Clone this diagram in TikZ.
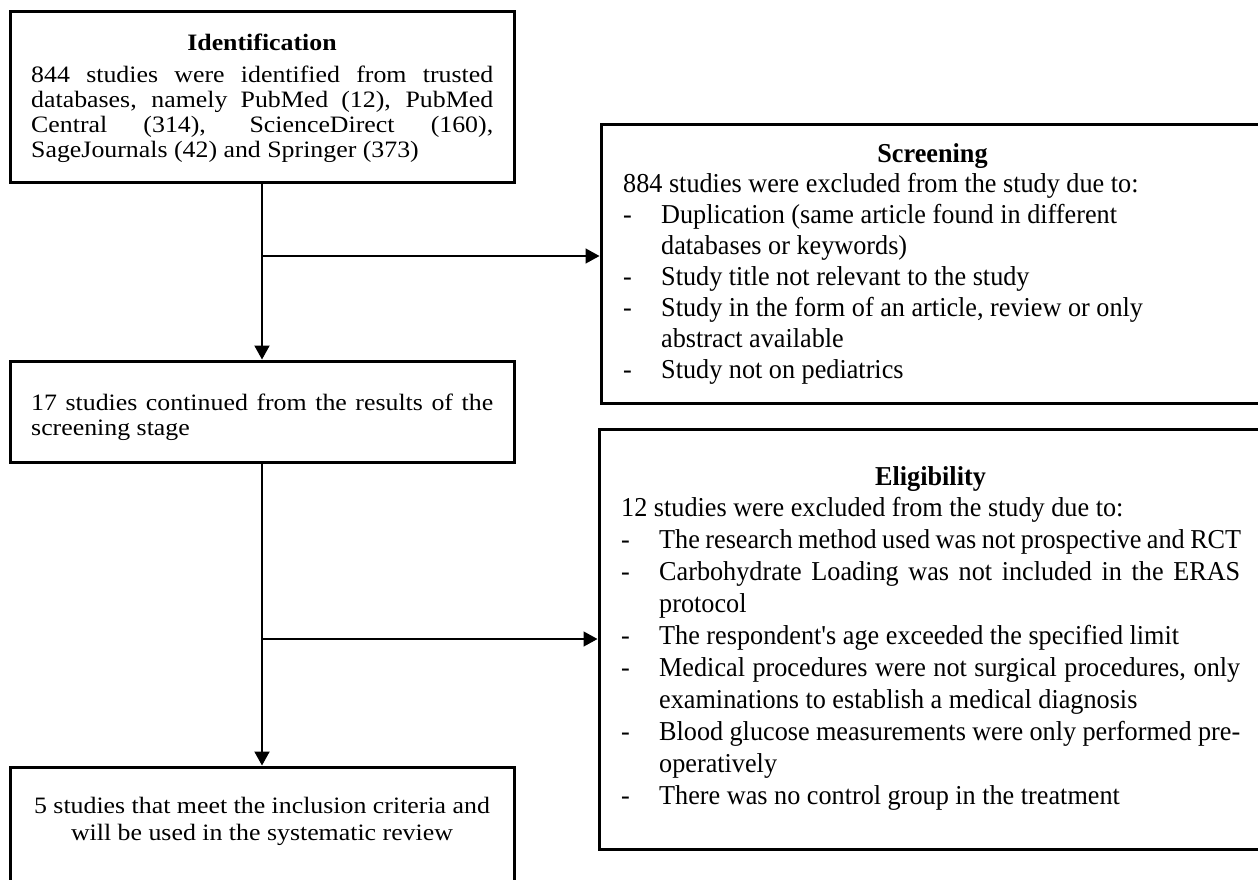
\documentclass[tikz,border=0pt]{standalone}
\usepackage{fontspec}
\setmainfont{Liberation Serif}
\newfontfamily\lfont[FakeStretch=1.1]{Liberation Serif}
\newfontfamily\rfont[FakeStretch=0.96]{Liberation Serif}
\usetikzlibrary{arrows.meta}
\newcommand\dsh{\makebox[38pt][l]{-}}
\newcommand\cnt{\hspace*{38pt}}
\newcommand\jl[2]{\makebox[#1][s]{#2}}
\tikzset{
  x=1pt, y=-1pt,
  box/.style={draw, line width=3pt, inner sep=0pt},
  vconn/.style={line width=2pt},
  hconn/.style={line width=1.5pt},
  arr/.style={-{Triangle[length=14pt,width=15pt]}},
  txt/.style={inner sep=0pt, anchor=base west},
  ctxt/.style={inner sep=0pt, anchor=base},
  lfnt/.style={font=\lfont\fontsize{23.5}{25}\selectfont},
  rfnt/.style={font=\rfont\fontsize{27.3}{31.2}\selectfont}
}
\begin{document}
\begin{tikzpicture}
\fill[white] (0,0) rectangle (1258,879);
\useasboundingbox (0,0) rectangle (1258,879);

% boxes
\node[box, minimum width=504pt, minimum height=171pt] (b1) at (262,96.5) {};
\node[box, minimum width=504pt, minimum height=101pt] (b2) at (262,411.5) {};
\node[box, minimum width=504pt, minimum height=117pt] (b3) at (262,825.5) {};
\node[box, minimum width=661pt, minimum height=279pt] (scr) at (931.5,263.5) {};
\node[box, minimum width=663pt, minimum height=420pt] (elg) at (930.5,639) {};

% Identification text
\node[ctxt, lfnt] (h1) at (262,50) {\bfseries Identification};
\node[txt, lfnt] (t1) at (31,82) {\parbox[t]{462pt}{\lfont\fontsize{23.5}{25}\selectfont
\jl{462pt}{844 studies were identified from trusted}\\
\jl{462pt}{databases, namely PubMed (12), PubMed}\\
\jl{462pt}{Central (314), ScienceDirect (160),}\\
SageJournals (42) and Springer (373)}};

% 17 studies
\node[txt, lfnt] (t2) at (31,410) {\parbox[t]{462pt}{\lfont\fontsize{23.5}{25}\selectfont
\jl{462pt}{17 studies continued from the results of the}\\
screening stage}};

% 5 studies
\node[ctxt, lfnt] (t3) at (262,813) {\parbox[t]{480pt}{\centering\lfont\fontsize{23.5}{27}\selectfont
5 studies that meet the inclusion criteria and\\
will be used in the systematic review}};

% Screening text
\node[ctxt, rfnt] (h2) at (932.5,162) {\bfseries Screening};
\node[txt, rfnt] (t4) at (623,192) {\parbox[t]{620pt}{\rfont\fontsize{27.3}{31.1}\selectfont
884 studies were excluded from the study due to:\\
\dsh Duplication (same article found in different\\
\cnt databases or keywords)\\
\dsh Study title not relevant to the study\\
\dsh Study in the form of an article, review or only\\
\cnt abstract available\\
\dsh Study not on pediatrics}};

% Eligibility text
\node[ctxt, rfnt] (h3) at (930.5,485) {\bfseries Eligibility};
\node[txt, rfnt] (t5) at (621,516) {\parbox[t]{620pt}{\rfont\fontsize{27.3}{32.1}\selectfont
12 studies were excluded from the study due to:\\
\dsh The research method used was not prospective and RCT\\
\dsh \jl{581pt}{Carbohydrate Loading was not included in the ERAS}\\
\cnt protocol\\
\dsh The respondent's age exceeded the specified limit\\
\dsh \jl{581pt}{Medical procedures were not surgical procedures, only}\\
\cnt examinations to establish a medical diagnosis\\
\dsh \jl{581pt}{Blood glucose measurements were only performed pre-}\\
\cnt operatively\\
\dsh There was no control group in the treatment}};

% connectors
\coordinate (j1) at (262,256);
\coordinate (j2) at (262,639);
\draw[vconn, arr] (b1.south) -- (b2.north);
\draw[hconn, arr] (j1) -- (j1 -| scr.west);
\draw[vconn, arr] (b2.south) -- (b3.north);
\draw[hconn, arr] (j2) -- (j2 -| elg.west);
\end{tikzpicture}
\end{document}
